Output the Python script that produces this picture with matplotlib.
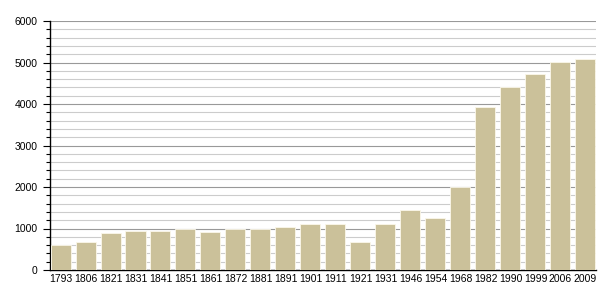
import matplotlib.pyplot as plt
from matplotlib.ticker import MultipleLocator

plt.rcParams['font.family'] = ['Liberation Sans', 'DejaVu Sans']

years = ['1793', '1806', '1821', '1831', '1841', '1851', '1861', '1872', '1881', '1891', '1901',
         '1911', '1921', '1931', '1946', '1954', '1968', '1982', '1990', '1999', '2006', '2009']
population = [600, 680, 897, 945, 945, 985, 923, 988, 990, 1043, 1100,
              1100, 680, 1116, 1442, 1257, 2000, 3935, 4402, 4730, 5012, 5084]

fig = plt.figure(figsize=(6.05, 3.0), dpi=100)
ax = fig.add_axes([50 / 605, 30 / 300, 546 / 605, 249 / 300])

x = range(len(years))
ax.bar(x, population, width=0.8, color='#cbc19a', edgecolor='#fbf8ea', linewidth=0.6, zorder=3)

ax.set_ylim(0, 6000)
ax.set_xlim(-0.42, len(years) - 0.58)
ax.yaxis.set_major_locator(MultipleLocator(1000))
ax.yaxis.set_minor_locator(MultipleLocator(200))
ax.grid(axis='y', which='major', color='#999999', linewidth=0.8, zorder=0)
ax.grid(axis='y', which='minor', color='#cccccc', linewidth=0.8, zorder=0)

ax.set_xticks(list(x))
ax.set_xticklabels(years)
ax.tick_params(axis='x', length=0, pad=3, labelsize=7.5)
ax.tick_params(axis='y', which='major', length=5, width=0.8, labelsize=7.5, pad=4)
ax.tick_params(axis='y', which='minor', length=3, width=0.8)

for s in ['top', 'right']:
    ax.spines[s].set_visible(False)
ax.spines['left'].set_linewidth(1)
ax.spines['bottom'].set_linewidth(1)

fig.savefig('out.png', dpi=100)
